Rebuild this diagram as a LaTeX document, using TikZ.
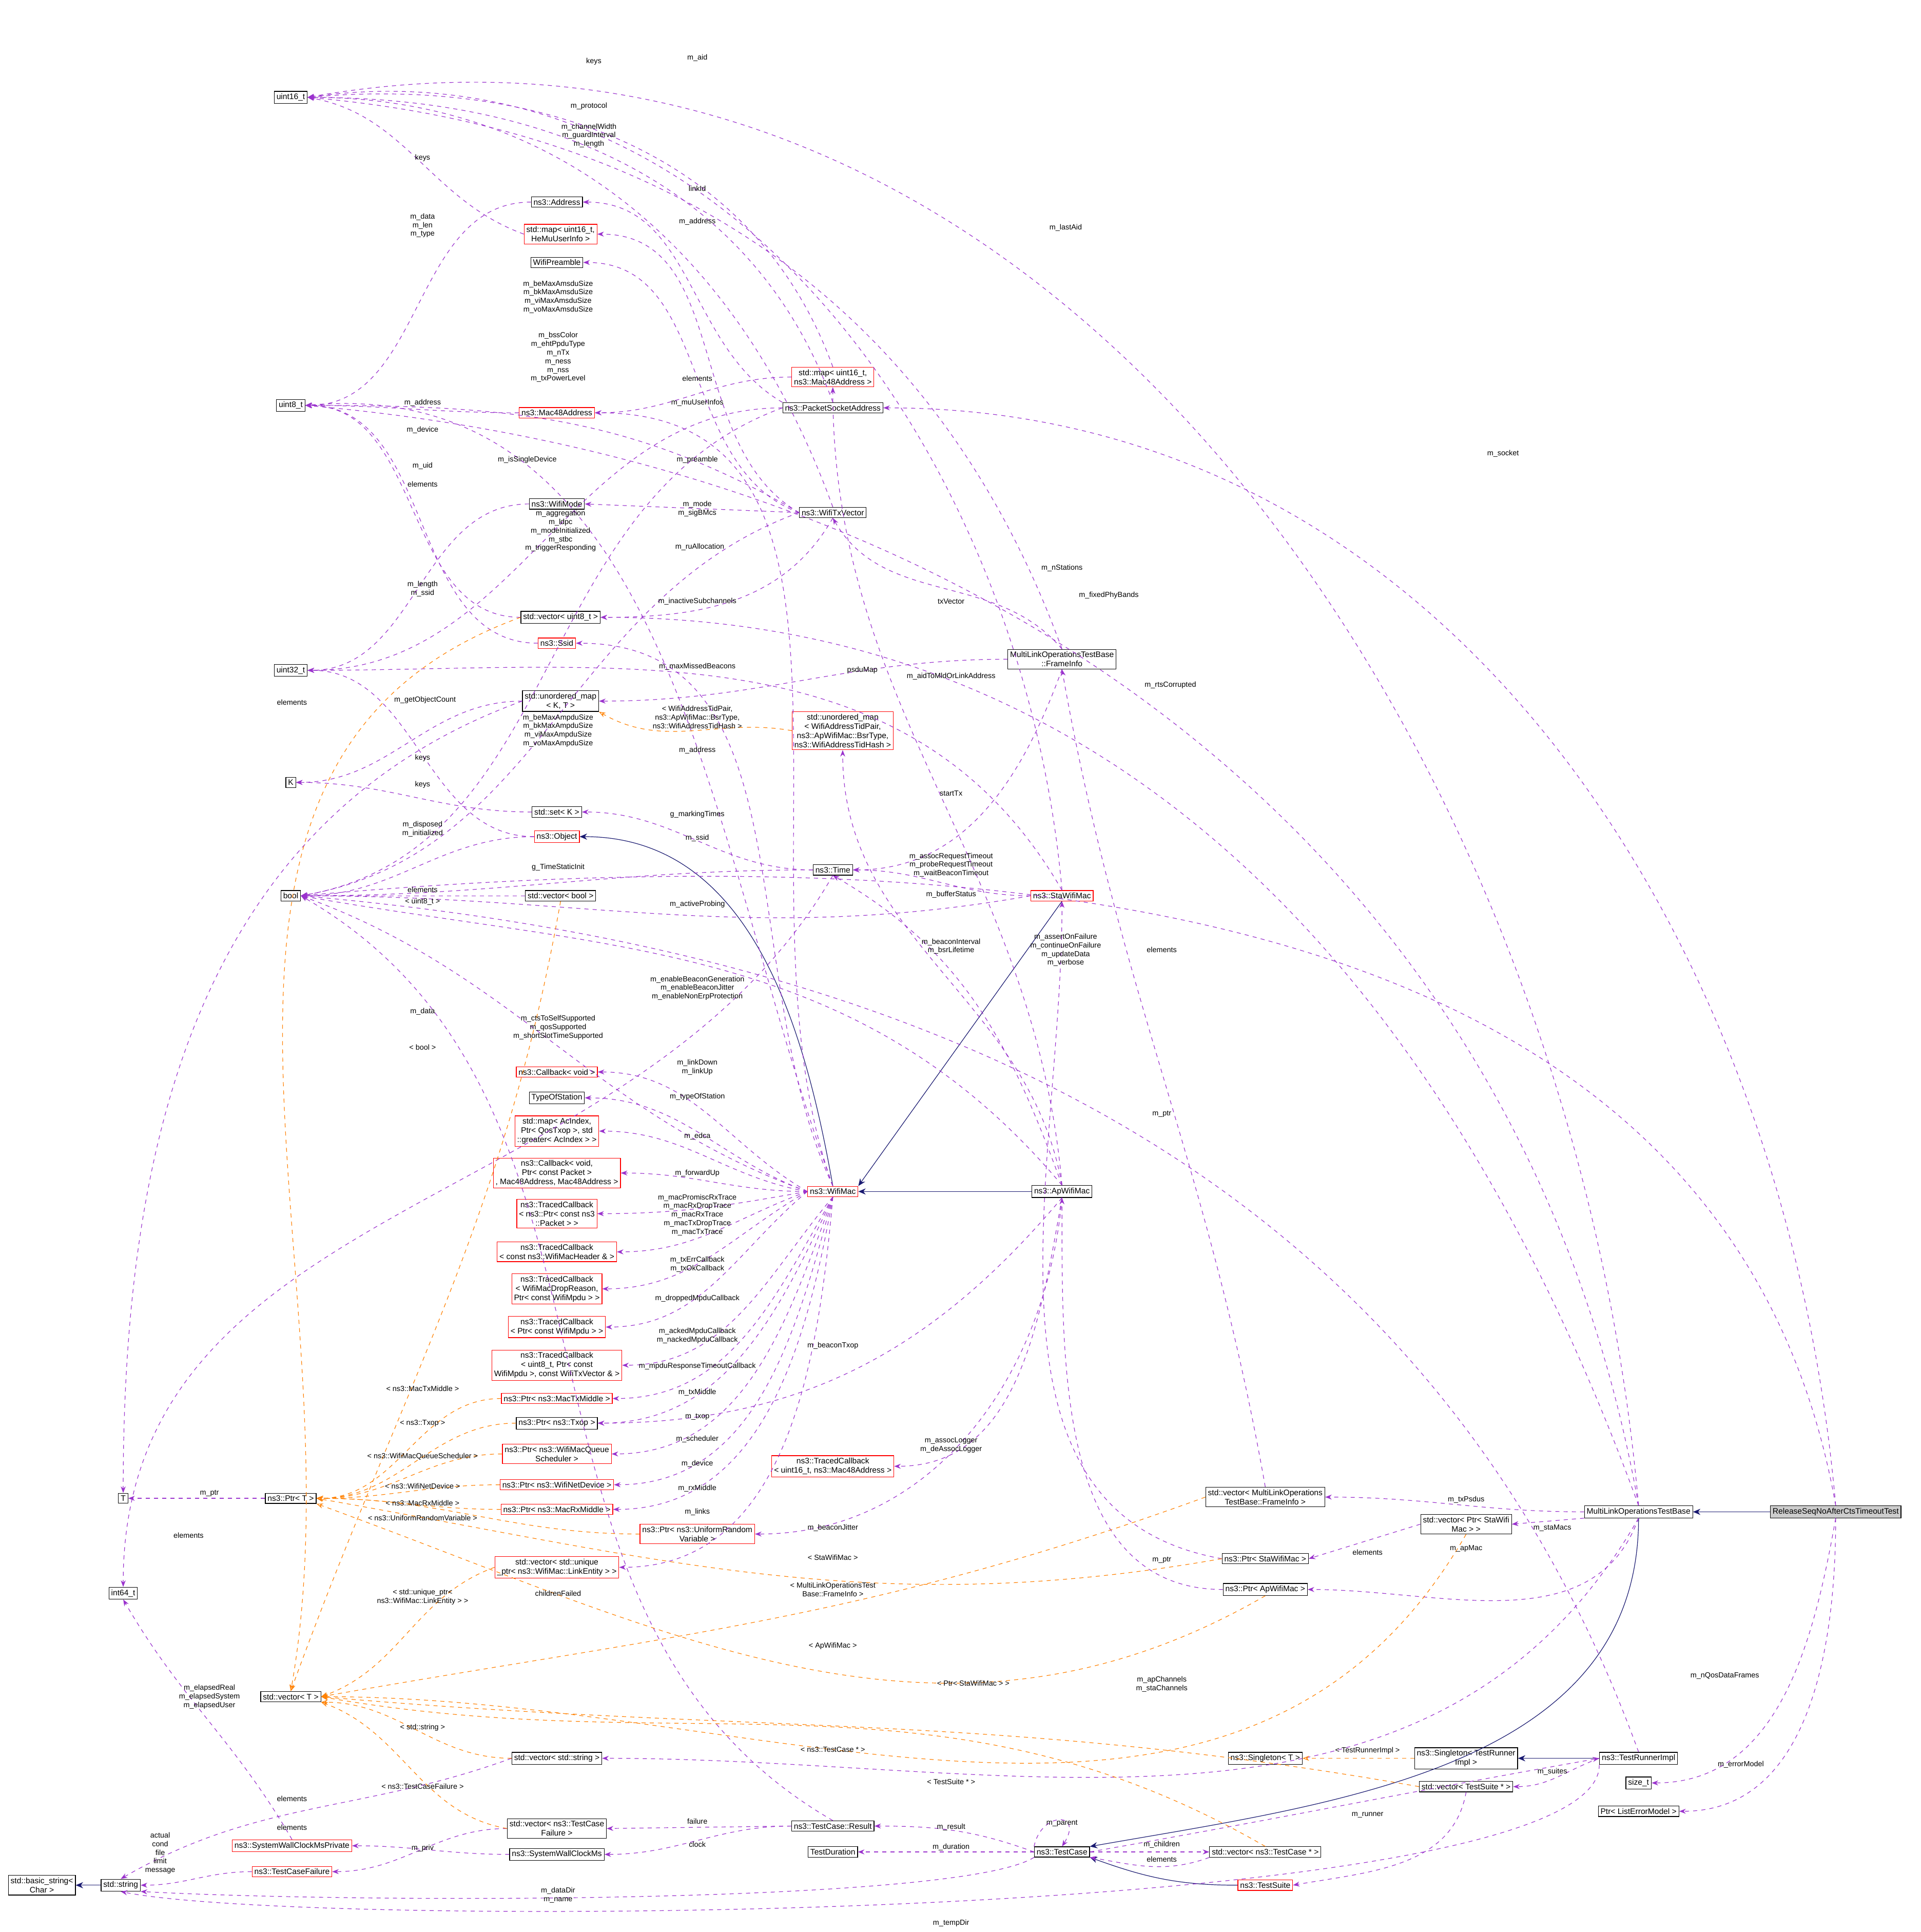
\documentclass[tikz,border=0pt]{standalone}
\usepackage{fontspec}
\setmainfont{Liberation Sans}
\usetikzlibrary{arrows.meta}
\begin{document}
\begin{tikzpicture}[x=0.3pt,y=-0.3pt,line width=0.15pt,
 n/.style={draw=black,fill=white,inner sep=0.55pt,font=\fontsize{1.95}{2.25}\selectfont,align=center},
 r/.style={n,draw=red},
 g/.style={n,fill=gray!40},
 lb/.style={font=\fontsize{1.8}{2.1}\selectfont,align=center,inner sep=0.2pt},
 u/.style={draw={rgb,255:red,154;green,50;blue,205},dash pattern=on 1pt off 1pt,-{Stealth[length=1.6pt,width=1.2pt]}},
 o/.style={draw=orange,dash pattern=on 1pt off 1pt,-{Stealth[open,length=1.6pt,width=1.2pt]}},
 ih/.style={draw={rgb,255:red,25;green,25;blue,112},-{Stealth[length=1.8pt,width=1.5pt]}},
 lf/.style={out=180,in=0}]
\path[use as bounding box] (0,0) rectangle (1559,1568);
% left column
\node[n] (u16) at (236,79) {uint16\_t};
\node[n] (u8) at (236,329) {uint8\_t};
\node[n] (u32) at (236,544) {uint32\_t};
\node[n] (K) at (236,635) {K};
\node[n] (bool) at (236,727) {bool};
\node[n] (T) at (100,1216) {T};
\node[n] (i64) at (100,1293) {int64\_t};
\node[n] (vecT) at (236,1377) {std::vector< T >};
\node[n] (bstr) at (34,1530) {std::basic\_string<\\Char >};
\node[n] (str) at (98,1530) {std::string};
% middle left
\node[n] (addr) at (452,164) {ns3::Address};
\node[r] (maphe) at (455,190) {std::map< uint16\_t,\\HeMuUserInfo >};
\node[n] (wpre) at (452,213) {WifiPreamble};
\node[r] (m48) at (452,335) {ns3::Mac48Address};
\node[n] (wmode) at (452,409) {ns3::WifiMode};
\node[n] (vu8) at (455,501) {std::vector< uint8\_t >};
\node[r] (ssid) at (452,522) {ns3::Ssid};
\node[n] (umKT) at (455,569) {std::unordered\_map\\< K, T >};
\node[n] (setK) at (452,659) {std::set< K >};
\node[r] (obj) at (452,679) {ns3::Object};
\node[n] (vbool) at (455,727) {std::vector< bool >};
\node[r] (cbv) at (452,870) {ns3::Callback< void >};
\node[n] (tos) at (452,891) {TypeOfStation};
\node[r] (mapac) at (452,918) {std::map< AcIndex,\\Ptr< QosTxop >, std\\::greater< AcIndex > >};
\node[r] (cbfw) at (452,952) {ns3::Callback< void,\\Ptr< const Packet >\\, Mac48Address, Mac48Address >};
\node[r] (tc1) at (452,985) {ns3::TracedCallback\\< ns3::Ptr< const ns3\\::Packet > >};
\node[r] (tc2) at (452,1016) {ns3::TracedCallback\\< const ns3::WifiMacHeader \& >};
\node[r] (tc3) at (452,1046) {ns3::TracedCallback\\< WifiMacDropReason,\\Ptr< const WifiMpdu > >};
\node[r] (tc4) at (452,1077) {ns3::TracedCallback\\< Ptr< const WifiMpdu > >};
\node[r] (tc5) at (452,1108) {ns3::TracedCallback\\< uint8\_t, Ptr< const\\WifiMpdu >, const WifiTxVector \& >};
\node[r] (ptrtx) at (452,1135) {ns3::Ptr< ns3::MacTxMiddle >};
\node[n] (ptrtxop) at (452,1155) {ns3::Ptr< ns3::Txop >};
\node[r] (ptrsch) at (452,1180) {ns3::Ptr< ns3::WifiMacQueue\\Scheduler >};
\node[r] (ptrdev) at (452,1205) {ns3::Ptr< ns3::WifiNetDevice >};
\node[r] (ptrrx) at (452,1225) {ns3::Ptr< ns3::MacRxMiddle >};
\node[n] (ptrT) at (236,1216) {ns3::Ptr< T >};
\node[r] (vlink) at (452,1272) {std::vector< std::unique\\\_ptr< ns3::WifiMac::LinkEntity > >};
\node[n] (vstr) at (452,1427) {std::vector< std::string >};
\node[n] (vtcf) at (452,1484) {std::vector< ns3::TestCase\\Failure >};
\node[n] (swc) at (452,1505) {ns3::SystemWallClockMs};
\node[r] (swcp) at (237,1498) {ns3::SystemWallClockMsPrivate};
\node[r] (tcf) at (237,1519) {ns3::TestCaseFailure};
% centre
\node[r] (mapm48) at (676,306) {std::map< uint16\_t,\\ns3::Mac48Address >};
\node[n] (psa) at (676,331) {ns3::PacketSocketAddress};
\node[n] (txv) at (676,416) {ns3::WifiTxVector};
\node[r] (umWA) at (684,593) {std::unordered\_map\\< WifiAddressTidPair,\\ns3::ApWifiMac::BsrType,\\ns3::WifiAddressTidHash >};
\node[n] (time) at (676,706) {ns3::Time};
\node[r] (wm) at (676,967) {ns3::WifiMac};
\node[r] (tcb16) at (676,1190) {ns3::TracedCallback\\< uint16\_t, ns3::Mac48Address >};
\node[r] (ptrurv) at (566,1245) {ns3::Ptr< ns3::UniformRandom\\Variable >};
\node[n] (res) at (676,1482) {ns3::TestCase::Result};
\node[n] (tdur) at (676,1503) {TestDuration};
% right centre
\node[n] (fi) at (862,535) {MultiLinkOperationsTestBase\\::FrameInfo};
\node[r] (sta) at (862,727) {ns3::StaWifiMac};
\node[n] (ap) at (862,967) {ns3::ApWifiMac};
\node[n] (tc) at (862,1503) {ns3::TestCase};
\node[n] (vtc) at (1027,1503) {std::vector< ns3::TestCase * >};
\node[r] (ts) at (1027,1530) {ns3::TestSuite};
\node[n] (singT) at (1027,1427) {ns3::Singleton< T >};
\node[n] (vfi) at (1027,1215) {std::vector< MultiLinkOperations\\TestBase::FrameInfo >};
\node[n] (ptrsta) at (1027,1265) {ns3::Ptr< StaWifiMac >};
\node[n] (ptrap) at (1027,1290) {ns3::Ptr< ApWifiMac >};
% right
\node[n] (vpsta) at (1190,1237) {std::vector< Ptr< StaWifi\\Mac > >};
\node[n] (mlotb) at (1330,1227) {MultiLinkOperationsTestBase};
\node[g] (rel) at (1490,1227) {ReleaseSeqNoAfterCtsTimeoutTest};
\node[n] (singTRI) at (1190,1427) {ns3::Singleton< TestRunner\\Impl >};
\node[n] (vts) at (1190,1450) {std::vector< TestSuite * >};
\node[n] (tri) at (1330,1427) {ns3::TestRunnerImpl};
\node[n] (sizet) at (1330,1447) {size\_t};
\node[n] (lem) at (1330,1470) {Ptr< ListErrorModel >};
% inheritance
\draw[ih] (wm.north) to[out=100,in=0] (obj.east);
\draw[ih] (sta.south) -- (wm.north east);
\draw[ih] (ap.west) -- (wm.east);
\draw[ih] (rel.west) -- (mlotb.east);
\draw[ih] (mlotb.south) to[out=-90,in=10] (tc.north east);
\draw[ih] (tri.west) -- (singTRI.east);
\draw[ih] (ts.west) to[out=180,in=-20] (tc.south east);
\draw[ih] (str.west) -- (bstr.east);
% purple usage
\draw[u] (mapm48.north) to[out=110,in=5] (u16.east);
\draw[u] (sta.north) to[out=95,in=8] (u16.east);
\draw[u] (psa.north) to[out=110,in=0] (u16.east);
\draw[u] (txv.north) to[out=110,in=0] (u16.east);
\draw[u] (maphe.west) to[out=160,in=-10] (u16.east);
\draw[u] (mlotb.north) to[out=95,in=10] (u16.east);
\draw[u] (fi.north) to[out=110,in=-5] (u16.east);
\draw[u] (addr.west) to[lf] (u8.east);
\draw[u] (wm.north) to[out=110,in=5] (u8.east);
\draw[u] (txv.west) to[out=150,in=0] (u8.east);
\draw[u] (m48.west) to[lf] (u8.east);
\draw[u] (vu8.west) to[lf] (u8.east);
\draw[u] (ssid.west) to[lf] (u8.east);
\draw[u] (mlotb.north) to[out=100,in=-5] (u8.east);
\draw[u] (psa.west) to[lf] (u32.east);
\draw[u] (wmode.west) to[lf] (u32.east);
\draw[u] (sta.north) to[out=120,in=0] (u32.east);
\draw[u] (obj.west) to[lf] (u32.east);
\draw[u] (umKT.west) to[lf] (K.east);
\draw[u] (setK.west) to[lf] (K.east);
\draw[u] (rel.north) to[out=100,in=5] (bool.east);
\draw[u] (psa.west) to[out=200,in=10] (bool.east);
\draw[u] (txv.west) to[out=200,in=10] (bool.east);
\draw[u] (obj.west) to[lf] (bool.east);
\draw[u] (vbool.west) to[lf] (bool.east);
\draw[u] (time.west) to[lf] (bool.east);
\draw[u] (sta.west) to[out=190,in=0] (bool.east);
\draw[u] (ap.north) to[out=130,in=-10] (bool.east);
\draw[u] (wm.west) to[out=160,in=-20] (bool.east);
\draw[u] (tri.north) to[out=110,in=-5] (bool.east);
\draw[u] (res.north) to[out=150,in=-30] (bool.east);
\draw[u] (umKT.west) to[out=200,in=90] (T.north);
\draw[u] (ptrT.west) -- (T.east);
\draw[u] (time.south) to[out=240,in=90] (i64.north);
\draw[u] (swcp.north) to[out=120,in=-60] (i64.south);
\draw[u] (vstr.west) to[out=200,in=30] (str.north);
\draw[u] (tcf.west) to[lf] (str.east);
\draw[u] (tc.south west) .. controls (780,1545) and (300,1545) .. (str.south east);
\draw[u] (tri.south west) .. controls (1300,1562) and (250,1566) .. (str.south);
\draw[u] (psa.north west) to[out=150,in=0] (addr.east);
\draw[u] (txv.west) to[out=150,in=0] (maphe.east);
\draw[u] (txv.west) to[out=160,in=0] (wpre.east);
\draw[u] (mapm48.west) to[lf] (m48.east);
\draw[u] (wm.north) to[out=110,in=0] (m48.east);
\draw[u] (txv.west) -- (wmode.east);
\draw[u] (txv.south) to[out=240,in=0] (vu8.east);
\draw[u] (mlotb.north) to[out=110,in=0] (vu8.east);
\draw[u] (wm.north) to[out=115,in=0] (ssid.east);
\draw[u] (fi.west) to[lf] (umKT.east);
\draw[u] (ap.north) to[out=95,in=-90] (mapm48.south);
\draw[u] (rel.north) to[out=95,in=0] (psa.east);
\draw[u] (fi.north) to[out=130,in=-60] (txv.south);
\draw[u] (time.west) to[lf] (setK.east);
\draw[u] (fi.south) to[out=-110,in=0] (time.east);
\draw[u] (sta.west) to[lf] (time.east);
\draw[u] (ap.north) to[out=110,in=-30] (time.south);
\draw[u] (ap.north) to[out=100,in=-90] (umWA.south);
\draw[u] (wm.west) to[out=150,in=0] (cbv.east);
\draw[u] (wm.west) to[out=160,in=0] (tos.east);
\draw[u] (wm.west) to[out=170,in=0] (mapac.east);
\draw[u] (wm.west) to[lf] (cbfw.east);
\draw[u] (wm.west) to[out=190,in=0] (tc1.east);
\draw[u] (wm.west) to[out=200,in=0] (tc2.east);
\draw[u] (wm.west) to[out=210,in=0] (tc3.east);
\draw[u] (wm.west) to[out=220,in=0] (tc4.east);
\draw[u] (wm.south) to[out=230,in=0] (tc5.east);
\draw[u] (wm.south) to[out=240,in=0] (ptrtx.east);
\draw[u] (wm.south) to[out=245,in=0] (ptrtxop.east);
\draw[u] (wm.south) to[out=250,in=0] (ptrsch.east);
\draw[u] (wm.south) to[out=255,in=0] (ptrdev.east);
\draw[u] (wm.south) to[out=260,in=0] (ptrrx.east);
\draw[u] (wm.south) to[out=265,in=0] (vlink.east);
\draw[u] (ap.south) to[out=230,in=0] (ptrtxop.east);
\draw[u] (ap.south) to[out=260,in=0] (tcb16.east);
\draw[u] (ap.south) to[out=265,in=0] (ptrurv.east);
\draw[u] (vfi.north) to[out=100,in=-80] (fi.south);
\draw[u] (ptrsta.west) to[out=170,in=-90] (sta.south);
\draw[u] (ptrap.west) to[out=180,in=-90] (ap.south);
\draw[u] (mlotb.west) to[lf] (vfi.east);
\draw[u] (vpsta.west) -- (ptrsta.east);
\draw[u] (mlotb.south west) -- (vpsta.east);
\draw[u] (mlotb.south) to[out=-110,in=0] (ptrap.east);
\draw[u] (mlotb.south) to[out=-120,in=0] (vstr.east);
\draw[u] (tc.north west) .. controls (845,1470) and (880,1470) .. (tc.north);
\draw[u] (tc.east) to[out=10,in=190] (tri.west);
\draw[u] (vtc.south west) to[out=200,in=-10] (tc.south east);
\draw[u] (tc.west) to[out=160,in=0] (res.east);
\draw[u] (tc.west) -- (tdur.east);
\draw[u] (tc.east) -- (vtc.west);
\draw[u] (res.west) -- (vtcf.east);
\draw[u] (res.west) to[lf] (swc.east);
\draw[u] (swc.west) to[lf] (swcp.east);
\draw[u] (vtcf.west) to[lf] (tcf.east);
\draw[u] (vts.south) to[out=-100,in=10] (ts.east);
\draw[u] (tri.west) to[out=200,in=0] (vts.east);
\draw[u] (rel.south) to[out=-100,in=0] (sizet.east);
\draw[u] (rel.south) to[out=-90,in=0] (lem.east);
% orange templates
\draw[o] (vu8.west) to[out=200,in=80] (vecT.north);
\draw[o] (umWA.west) to[out=170,in=-30] (umKT.south east);
\draw[o] (vbool.south) to[out=-100,in=70] (vecT.north);
\draw[o] (ptrtx.west) to[lf] (ptrT.east);
\draw[o] (ptrtxop.west) to[lf] (ptrT.east);
\draw[o] (ptrsch.west) to[lf] (ptrT.east);
\draw[o] (ptrdev.west) to[lf] (ptrT.east);
\draw[o] (ptrrx.west) to[lf] (ptrT.east);
\draw[o] (ptrurv.west) to[lf] (ptrT.east);
\draw[o] (vlink.west) to[out=200,in=20] (vecT.east);
\draw[o] (ptrsta.west) to[out=190,in=-10] (ptrT.east);
\draw[o] (vfi.west) to[out=200,in=10] (vecT.east);
\draw[o] (ptrap.south) to[out=-150,in=-20] (ptrT.south east);
\draw[o] (vpsta.south) to[out=-120,in=0] (vecT.east);
\draw[o] (vstr.west) to[lf] (vecT.south east);
\draw[o] (vtcf.west) to[out=170,in=-20] (vecT.south east);
\draw[o] (vtc.north) to[out=150,in=-10] (vecT.east);
\draw[o] (vts.west) to[out=170,in=-5] (vecT.east);
\draw[o] (singTRI.west) -- (singT.east);
% labels
\foreach \p/\t in {
 {482,50}/keys, {566,47}/m\_aid, {478,86}/m\_protocol, {478,110}/{m\_channelWidth\\m\_guardInterval\\m\_length},
 {343,128}/keys, {343,183}/{m\_data\\m\_len\\m\_type}, {566,180}/m\_address, {566,153}/linkId, {865,185}/m\_lastAid,
 {453,241}/{m\_beMaxAmsduSize\\m\_bkMaxAmsduSize\\m\_viMaxAmsduSize\\m\_voMaxAmsduSize},
 {453,290}/{m\_bssColor\\m\_ehtPpduType\\m\_nTx\\m\_ness\\m\_nss\\m\_txPowerLevel},
 {566,307}/elements, {566,327}/m\_muUserInfos, {343,327}/m\_address, {343,349}/m\_device, {566,373}/m\_preamble,
 {343,378}/m\_uid, {428,373}/m\_isSingleDevice, {343,393}/elements, {566,413}/{m\_mode\\m\_sigBMcs},
 {455,431}/{m\_aggregation\\m\_ldpc\\m\_modeInitialized\\m\_stbc\\m\_triggerResponding},
 {568,444}/m\_ruAllocation, {862,461}/m\_nStations, {343,478}/{m\_length\\m\_ssid}, {566,488}/m\_inactiveSubchannels,
 {772,488}/txVector, {900,483}/m\_fixedPhyBands, {566,541}/m\_maxMissedBeacons, {700,544}/psduMap,
 {772,549}/m\_aidToMldOrLinkAddress, {950,556}/m\_rtsCorrupted, {237,570}/elements, {345,568}/m\_getObjectCount,
 {566,582}/{< WifiAddressTidPair,\\ns3::ApWifiMac::BsrType,\\ns3::WifiAddressTidHash >},
 {453,593}/{m\_beMaxAmpduSize\\m\_bkMaxAmpduSize\\m\_viMaxAmpduSize\\m\_voMaxAmpduSize},
 {566,609}/m\_address, {343,615}/keys, {343,637}/keys, {772,644}/startTx, {566,661}/g\_markingTimes,
 {343,673}/{m\_disposed\\m\_initialized}, {566,680}/m\_ssid,
 {772,702}/{m\_assocRequestTimeout\\m\_probeRequestTimeout\\m\_waitBeaconTimeout},
 {453,704}/g\_TimeStaticInit, {343,722}/elements, {343,732}/{< uint8\_t >}, {566,734}/m\_activeProbing,
 {772,726}/m\_bufferStatus, {943,771}/elements, {772,768}/{m\_beaconInterval\\m\_bsrLifetime},
 {865,771}/{m\_assertOnFailure\\m\_continueOnFailure\\m\_updateData\\m\_verbose},
 {566,802}/{m\_enableBeaconGeneration\\m\_enableBeaconJitter\\m\_enableNonErpProtection},
 {343,821}/m\_data, {453,834}/{m\_ctsToSelfSupported\\m\_qosSupported\\m\_shortSlotTimeSupported},
 {343,850}/{< bool >}, {566,866}/{m\_linkDown\\m\_linkUp}, {566,890}/m\_typeOfStation, {566,922}/m\_edca,
 {566,952}/m\_forwardUp,
 {566,986}/{m\_macPromiscRxTrace\\m\_macRxDropTrace\\m\_macRxTrace\\m\_macTxDropTrace\\m\_macTxTrace},
 {566,1026}/{m\_txErrCallback\\m\_txOkCallback}, {566,1054}/m\_droppedMpduCallback,
 {566,1084}/{m\_ackedMpduCallback\\m\_nackedMpduCallback}, {566,1109}/m\_mpduResponseTimeoutCallback,
 {566,1130}/m\_txMiddle, {676,1092}/m\_beaconTxop, {343,1127}/{< ns3::MacTxMiddle >}, {566,1150}/m\_txop,
 {343,1155}/{< ns3::Txop >}, {566,1168}/m\_scheduler, {566,1188}/m\_device,
 {343,1182}/{< ns3::WifiMacQueueScheduler >}, {343,1206}/{< ns3::WifiNetDevice >}, {566,1208}/m\_rxMiddle,
 {343,1220}/{< ns3::MacRxMiddle >}, {343,1232}/{< ns3::UniformRandomVariable >}, {566,1227}/m\_links,
 {170,1212}/m\_ptr, {153,1246}/elements, {772,1173}/{m\_assocLogger\\m\_deAssocLogger},
 {676,1240}/m\_beaconJitter, {943,904}/m\_ptr, {1190,1217}/m\_txPsdus, {1260,1240}/m\_staMacs,
 {1110,1260}/elements, {1190,1257}/m\_apMac, {676,1264}/{< StaWifiMac >}, {943,1266}/m\_ptr,
 {676,1290}/{< MultiLinkOperationsTest\\Base::FrameInfo >}, {453,1293}/childrenFailed,
 {343,1296}/{< std::unique\_ptr<\\ns3::WifiMac::LinkEntity > >}, {676,1336}/{< ApWifiMac >},
 {170,1377}/{m\_elapsedReal\\m\_elapsedSystem\\m\_elapsedUser}, {790,1366}/{< Ptr< StaWifiMac > >},
 {943,1367}/{m\_apChannels\\m\_staChannels}, {343,1402}/{< std::string >}, {1110,1421}/{< TestRunnerImpl >},
 {676,1420}/{< ns3::TestCase * >}, {1400,1360}/m\_nQosDataFrames, {772,1446}/{< TestSuite * >},
 {1260,1438}/m\_suites, {1413,1432}/m\_errorModel, {343,1450}/{< ns3::TestCaseFailure >},
 {237,1460}/elements, {1110,1473}/m\_runner, {772,1483}/m\_result, {237,1483}/elements, {566,1478}/failure,
 {566,1497}/clock, {862,1480}/m\_parent, {772,1499}/m\_duration, {343,1500}/m\_priv, {943,1497}/m\_children,
 {943,1509}/elements, {130,1504}/{actual\\cond\\file\\limit\\message}, {453,1538}/{m\_dataDir\\m\_name},
 {772,1561}/m\_tempDir, {1220,368}/m\_socket}
 {\node[lb] at (\p) {\t};}
\end{tikzpicture}
\end{document}
